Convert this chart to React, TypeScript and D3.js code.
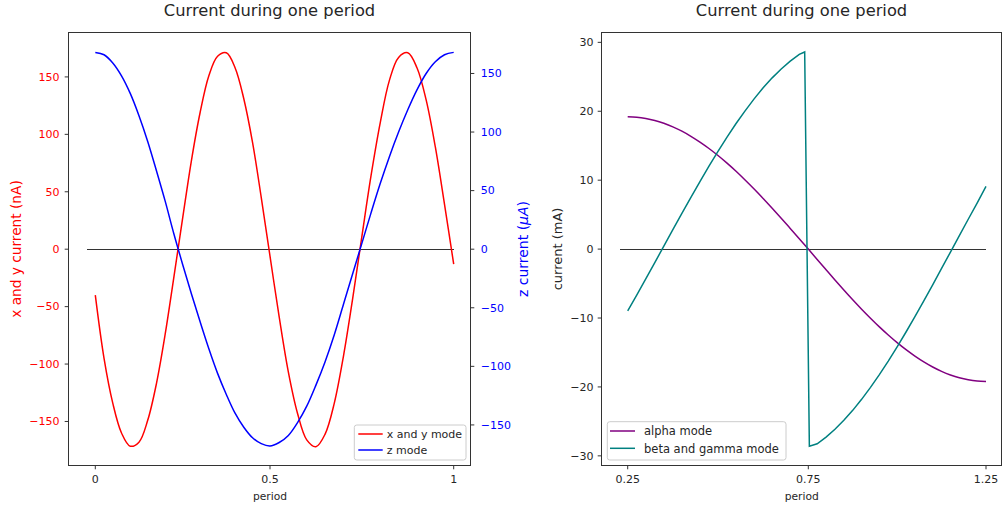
import React from 'react';
import * as d3 from 'd3';

// ---------- data ----------
const periodT = [0, 0.025, 0.05, 0.075, 0.1, 0.125, 0.15, 0.175, 0.2, 0.225, 0.25, 0.275, 0.3, 0.325, 0.35, 0.375, 0.4, 0.425, 0.45, 0.475, 0.5, 0.525, 0.55, 0.575, 0.6, 0.625, 0.65, 0.675, 0.7, 0.725, 0.75, 0.775, 0.8, 0.825, 0.85, 0.875, 0.9, 0.925, 0.95, 0.975, 1];
const xyCurrent = [-40, -95, -134, -160, -171.5, -168, -149, -117, -74, -24, 27, 77, 119, 151, 168, 171, 158, 131, 93, 45, -6, -59, -107, -143, -166, -172, -161, -134, -93, -43, 11, 64, 110, 147, 167, 171, 158, 130, 89, 39, -13];
const zCurrent = [168, 166, 159, 148, 133, 114, 92, 67, 41, 13, -13, -38, -62, -85, -106, -124, -140, -152, -161, -166, -168, -165, -159, -148, -134, -116, -96, -73, -47, -21, 5, 31, 56, 79, 100, 119, 136, 150, 160, 166, 168];

const alphaT = [0.25, 0.275, 0.3, 0.325, 0.35, 0.375, 0.4, 0.425, 0.45, 0.475, 0.5, 0.525, 0.55, 0.575, 0.6, 0.625, 0.65, 0.675, 0.7, 0.725, 0.75, 0.775, 0.8, 0.825, 0.85, 0.875, 0.9, 0.925, 0.95, 0.975, 1, 1.025, 1.05, 1.075, 1.1, 1.125, 1.15, 1.175, 1.2, 1.225, 1.25];
const alphaCurrent = [19.2, 19.14, 18.96, 18.67, 18.26, 17.74, 17.11, 16.37, 15.53, 14.6, 13.58, 12.47, 11.29, 10.03, 8.72, 7.35, 5.93, 4.48, 3, 1.51, 0, -1.51, -3, -4.48, -5.93, -7.35, -8.72, -10.03, -11.29, -12.47, -13.58, -14.6, -15.53, -16.37, -17.11, -17.74, -18.26, -18.67, -18.96, -19.14, -19.2];
const betaT = [0.25, 0.275, 0.3, 0.325, 0.35, 0.375, 0.4, 0.425, 0.45, 0.475, 0.5, 0.525, 0.55, 0.575, 0.6, 0.625, 0.65, 0.675, 0.7, 0.725, 0.74, 0.753, 0.775, 0.8, 0.825, 0.85, 0.875, 0.9, 0.925, 0.95, 0.975, 1, 1.025, 1.05, 1.075, 1.1, 1.125, 1.15, 1.175, 1.2, 1.225, 1.25];
const betaCurrent = [-8.98, -6.68, -4.33, -1.96, 0.43, 2.81, 5.18, 7.51, 9.8, 12.03, 14.18, 16.25, 18.22, 20.06, 21.8, 23.4, 24.85, 26.14, 27.28, 28.25, 28.6, -28.6, -28.25, -27.28, -26.14, -24.85, -23.4, -21.8, -20.06, -18.22, -16.25, -14.18, -12.03, -9.8, -7.51, -5.18, -2.81, -0.43, 1.96, 4.33, 6.68, 9.1];

const leftXTicks = [0, 0.5, 1];
const leftXTickLabels = ['0', '0.5', '1'];
const rightXTicks = [0.25, 0.75, 1.25];
const rightXTickLabels = ['0.25', '0.75', '1.25'];
const nATicks = [-150, -100, -50, 0, 50, 100, 150];
const uATicks = [-150, -100, -50, 0, 50, 100, 150];
const mATicks = [-30, -20, -10, 0, 10, 20, 30];

const titleText = 'Current during one period';
const legendLeft = ['x and y mode', 'z mode'];
const legendRight = ['alpha mode', 'beta and gamma mode'];

// ---------- layout ----------
const W = 1003;
const H = 511;
const FONT = 'DejaVu Sans, sans-serif';
const TXT = '#262626';
const L = { x0: 68.5, x1: 470.5, y0: 32.5, y1: 465.5 };
const R = { x0: 601.5, x1: 1001.5, y0: 32.5, y1: 465.5 };

const fmt = (v: number) => (v < 0 ? '\u2212' : '') + Math.abs(v);

export default function App() {
  const xL = d3.scaleLinear().domain([0, 0.5, 1]).range([95.3, 270, 453.7]);
  const yRed = d3.scaleLinear().domain([-188.5, 188.5]).range([465.7, 32.7]);
  const yBlue = d3.scaleLinear().domain([-184.8, 184.8]).range([465.7, 32.7]);
  const xR = d3.scaleLinear().domain([0.25, 0.75, 1.25]).range([627.7, 808.3, 986]);
  const yR = d3.scaleLinear().domain([-31.4, 31.4]).range([465.5, 32.7]);

  const mk = (xs: number[], ys: number[], sx: any, sy: any, curve: any) =>
    d3.line<number>().x((_, i) => sx(xs[i])).y((d) => sy(d)).curve(curve)(ys) || '';

  const redPath = mk(periodT, xyCurrent, xL, yRed, d3.curveCatmullRom);
  const bluePath = mk(periodT, zCurrent, xL, yBlue, d3.curveCatmullRom);
  const purplePath = mk(alphaT, alphaCurrent, xR, yR, d3.curveCatmullRom);
  const tealPath = mk(betaT, betaCurrent, xR, yR, d3.curveLinear);

  const tick = 3.8;

  return (
    <svg width={W} height={H} style={{ position: 'absolute', left: 0, top: 0, background: '#fff' }} fontFamily={FONT}>
      <defs>
        <clipPath id="clipL"><rect x={L.x0} y={L.y0} width={L.x1 - L.x0} height={L.y1 - L.y0} /></clipPath>
        <clipPath id="clipR"><rect x={R.x0} y={R.y0} width={R.x1 - R.x0} height={R.y1 - R.y0} /></clipPath>
      </defs>
      <rect x={0} y={0} width={W} height={H} fill="#fff" />

      {/* ---------- LEFT PANEL ---------- */}
      <text x={(L.x0 + L.x1) / 2} y={16} textAnchor="middle" fontSize={16.3} fill={TXT}>{titleText}</text>
      <g clipPath="url(#clipL)">
        <line x1={xL(-0.024)} x2={xL(1)} y1={yRed(0)} y2={yRed(0)} stroke="#000" strokeWidth={0.8} shapeRendering="crispEdges" />
        <path d={redPath} fill="none" stroke="#ff0000" strokeWidth={1.5} />
        <path d={bluePath} fill="none" stroke="#0000ff" strokeWidth={1.5} />
      </g>
      <rect x={L.x0} y={L.y0} width={L.x1 - L.x0} height={L.y1 - L.y0} fill="none" stroke="#333" strokeWidth={1} />
      {nATicks.map((v) => (
        <g key={'na' + v}>
          <line x1={L.x0 - tick} x2={L.x0} y1={yRed(v)} y2={yRed(v)} stroke="#333" />
          <text x={59.5} y={yRed(v)} dy="0.35em" textAnchor="end" fontSize={11} fill="#ff0000">{fmt(v)}</text>
        </g>
      ))}
      {uATicks.map((v) => (
        <g key={'ua' + v}>
          <line x1={L.x1} x2={L.x1 + tick} y1={yBlue(v)} y2={yBlue(v)} stroke="#333" />
          <text x={480.7} y={yBlue(v)} dy="0.35em" textAnchor="start" fontSize={11} fill="#0000ff">{fmt(v)}</text>
        </g>
      ))}
      {leftXTicks.map((v, i) => (
        <g key={'lx' + v}>
          <line x1={xL(v)} x2={xL(v)} y1={L.y1} y2={L.y1 + tick} stroke="#333" />
          <text x={xL(v)} y={483} textAnchor="middle" fontSize={11} fill={TXT}>{leftXTickLabels[i]}</text>
        </g>
      ))}
      <text x={(L.x0 + L.x1) / 2 + 0.5} y={500} textAnchor="middle" fontSize={10.7} fill={TXT}>period</text>
      <text transform={`translate(20.5,249) rotate(-90)`} textAnchor="middle" fontSize={13.7} fill="#ff0000">x and y current (nA)</text>
      <text transform={`translate(528,249) rotate(-90)`} textAnchor="middle" fontSize={14} fill="#0000ff">
        z current (<tspan fontStyle="italic">μA</tspan>)
      </text>
      {/* left legend */}
      <rect x={354.3} y={425} width={111.7} height={35} rx={2.5} fill="#fff" fillOpacity={0.8} stroke="#cccccc" strokeWidth={1} />
      <line x1={358.3} x2={382.7} y1={434} y2={434} stroke="#ff0000" strokeWidth={1.5} />
      <line x1={358.3} x2={382.7} y1={450} y2={450} stroke="#0000ff" strokeWidth={1.5} />
      <text x={386.7} y={438.3} fontSize={11} fill={TXT}>{legendLeft[0]}</text>
      <text x={386.7} y={453.7} fontSize={11} fill={TXT}>{legendLeft[1]}</text>

      {/* ---------- RIGHT PANEL ---------- */}
      <text x={(R.x0 + R.x1) / 2} y={16} textAnchor="middle" fontSize={16.3} fill={TXT}>{titleText}</text>
      <g clipPath="url(#clipR)">
        <line x1={xR(0.229)} x2={xR(1.25)} y1={yR(0)} y2={yR(0)} stroke="#000" strokeWidth={0.8} shapeRendering="crispEdges" />
        <path d={purplePath} fill="none" stroke="purple" strokeWidth={1.5} />
        <path d={tealPath} fill="none" stroke="teal" strokeWidth={1.5} />
      </g>
      <rect x={R.x0} y={R.y0} width={R.x1 - R.x0} height={R.y1 - R.y0} fill="none" stroke="#333" strokeWidth={1} />
      {mATicks.map((v) => (
        <g key={'ma' + v}>
          <line x1={R.x0 - tick} x2={R.x0} y1={yR(v)} y2={yR(v)} stroke="#333" />
          <text x={593.5} y={yR(v)} dy="0.35em" textAnchor="end" fontSize={11} fill={TXT}>{fmt(v)}</text>
        </g>
      ))}
      {rightXTicks.map((v, i) => (
        <g key={'rx' + v}>
          <line x1={xR(v)} x2={xR(v)} y1={R.y1} y2={R.y1 + tick} stroke="#333" />
          <text x={xR(v)} y={483} textAnchor="middle" fontSize={11} fill={TXT}>{rightXTickLabels[i]}</text>
        </g>
      ))}
      <text x={801.7} y={500} textAnchor="middle" fontSize={10.7} fill={TXT}>period</text>
      <text transform={`translate(562,249) rotate(-90)`} textAnchor="middle" fontSize={13} fill={TXT}>current (mA)</text>
      {/* right legend */}
      <rect x={607.3} y={421.7} width={178.7} height={38.3} rx={2.5} fill="#fff" fillOpacity={0.8} stroke="#cccccc" strokeWidth={1} />
      <line x1={610} x2={635} y1={431} y2={431} stroke="purple" strokeWidth={1.5} />
      <line x1={610} x2={635} y1={448.3} y2={448.3} stroke="teal" strokeWidth={1.5} />
      <text x={644} y={435} fontSize={11.5} fill={TXT}>{legendRight[0]}</text>
      <text x={644} y={452.7} fontSize={11.5} fill={TXT}>{legendRight[1]}</text>
    </svg>
  );
}
